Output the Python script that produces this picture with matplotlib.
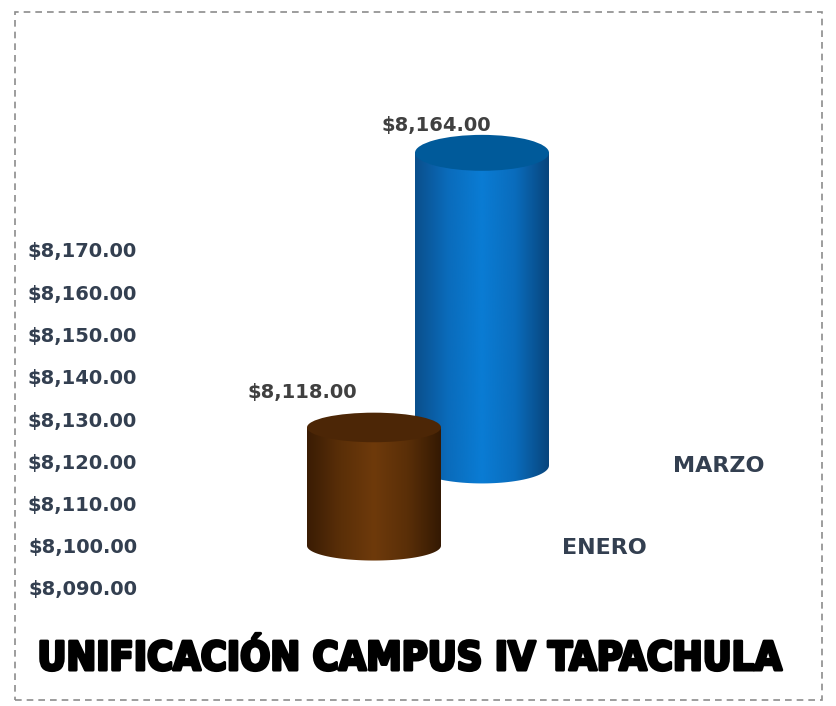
import numpy as np
import matplotlib
matplotlib.use("Agg")
import matplotlib.pyplot as plt
import matplotlib.patheffects as pe
from matplotlib.patches import Ellipse, PathPatch, Rectangle
from matplotlib.path import Path
from matplotlib.colors import LinearSegmentedColormap

# data
months = ["ENERO", "MARZO"]
amounts = [8118.00, 8164.00]
ticks = [8090, 8100, 8110, 8120, 8130, 8140, 8150, 8160, 8170]
title = "UNIFICACIÓN CAMPUS IV TAPACHULA"

# style / layout
W, H = 836, 706
base_val = 8090
px_per_unit = 4.225
depth = [10, 29]          # perspective shift in value units
centers = [374, 482]      # x in pixel-like units
bar_w = 134
ell_h = [7.0, 8.5]
lab_dx = [-72, -46]
lab_dy = [2.5, 0.0]
side_cols = [["#3a1c04", "#5a2f08", "#6e3a0b", "#5a2f08", "#341903"],
             ["#0b4f8c", "#0a6cbc", "#0a7cd4", "#0a6cbc", "#08457c"]]
top_cols = ["#4c2606", "#005a9a"]
txt = "#333f50"
font = "DejaVu Sans"

fig = plt.figure(figsize=(W / 100, H / 100), dpi=100)
fig.patch.set_facecolor("white")

ax_left, ax_right = 140, 820
ax_top, ax_bot = 100, 600
ax = fig.add_axes([ax_left / W, 1 - ax_bot / H, (ax_right - ax_left) / W, (ax_bot - ax_top) / H])
y0 = base_val - (ax_bot - 588) / px_per_unit
y1 = base_val + (588 - ax_top) / px_per_unit
ax.set_facecolor("none")
for s in ax.spines.values():
    s.set_visible(False)
ax.set_xticks([])
ax.set_yticks(ticks)
ax.set_yticklabels([f"${t:,.2f}" for t in ticks], fontsize=14, fontweight="bold",
                   color=txt, family=font)
ax.tick_params(axis="y", length=0, pad=2)


def cylinder(cx, lo, hi, eh, cols, topc, z):
    x0, x1 = cx - bar_w / 2, cx + bar_w / 2
    t = np.linspace(np.pi, 2 * np.pi, 60)
    arc = np.column_stack([cx + bar_w / 2 * np.cos(t), lo + eh / 2 * np.sin(t)])
    verts = np.vstack([[x0, hi], [x0, lo], arc, [x1, lo], [x1, hi], [x0, hi]])
    codes = [Path.MOVETO] + [Path.LINETO] * (len(verts) - 2) + [Path.CLOSEPOLY]
    body = PathPatch(Path(verts, codes), facecolor="none", edgecolor="none", zorder=z)
    ax.add_patch(body)
    cmap = LinearSegmentedColormap.from_list("c", cols)
    grad = np.linspace(0, 1, 256).reshape(1, -1)
    im = ax.imshow(grad, cmap=cmap, aspect="auto", extent=[x0, x1, lo - eh, hi],
                   zorder=z, interpolation="bicubic")
    im.set_clip_path(body)
    ax.add_patch(Ellipse((cx, hi), bar_w, eh, facecolor=topc, edgecolor="none",
                         zorder=z + 0.1))


# blue (back) first, brown (front) after
order = [1, 0]
for k, i in enumerate(order):
    lo = base_val + depth[i]
    hi = amounts[i] + depth[i]
    cylinder(centers[i], lo, hi, ell_h[i], side_cols[i], top_cols[i], 2 + k)
    ax.text(centers[i] + lab_dx[i], hi + ell_h[i] / 2 + lab_dy[i], f"${amounts[i]:,.2f}",
            ha="center", va="bottom", fontsize=14, fontweight="bold",
            color="#404040", family=font, zorder=10)

ax.set_ylim(y0, y1)
ax.set_xlim(ax_left, ax_right)

# depth axis labels
fig.text(604 / W, 1 - 548 / H, months[0], ha="center", va="center", fontsize=16,
         fontweight="bold", color=txt, family=font)
fig.text(719 / W, 1 - 466 / H, months[1], ha="center", va="center", fontsize=16,
         fontweight="bold", color=txt, family=font)

fig.text(410 / W, 1 - 659 / H, title, ha="center", va="center", fontsize=28.5,
         fontweight="heavy", color="black", family="DejaVu Sans", stretch="condensed",
         path_effects=[pe.withStroke(linewidth=2.2, foreground="black")])

fig.patches.append(Rectangle((15 / W, 1 - 700 / H), 807 / W, 688 / H,
                             transform=fig.transFigure, fill=False,
                             edgecolor="#8c8c8c", linestyle=(0, (4, 3)), lw=1.2))

fig.savefig("out.png", dpi=100)
